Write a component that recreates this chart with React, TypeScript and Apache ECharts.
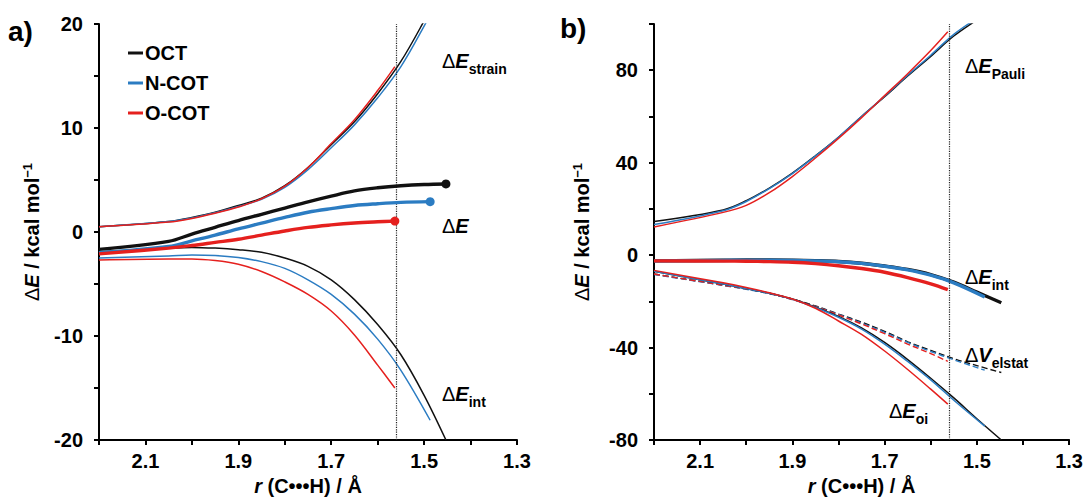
import React, { useEffect, useRef } from "react";
import * as echarts from "echarts";

const FONT = "'Liberation Sans', Arial, Helvetica, sans-serif";
const BLACK = "#111111";
const BLUE = "#2b7cc2";
const RED = "#e5201e";

// ---------- r (C···H) grids, Å ----------
const rRed = [2.2, 2.05, 2.0, 1.95, 1.9, 1.85, 1.8, 1.75, 1.7, 1.65, 1.6, 1.563];
const rBlueA = [2.2, 2.05, 2.0, 1.95, 1.9, 1.85, 1.8, 1.75, 1.7, 1.65, 1.6, 1.55, 1.487];
const rBlackA = [2.2, 2.05, 2.0, 1.95, 1.9, 1.85, 1.8, 1.75, 1.7, 1.65, 1.6, 1.55, 1.5, 1.453];
const rStrainLong = [2.2, 2.05, 2.0, 1.95, 1.9, 1.85, 1.8, 1.75, 1.7, 1.65, 1.6, 1.55, 1.5, 1.47];
const rBlueB = [2.2, 2.05, 2.0, 1.95, 1.9, 1.85, 1.8, 1.75, 1.7, 1.65, 1.6, 1.55, 1.483];
const rBlackB = [2.2, 2.05, 2.0, 1.95, 1.9, 1.85, 1.8, 1.75, 1.7, 1.65, 1.6, 1.55, 1.5, 1.447];
const rPauliLong = [2.2, 2.05, 2.0, 1.95, 1.9, 1.85, 1.8, 1.75, 1.7, 1.65, 1.6, 1.55, 1.5, 1.48];
const rCut = 1.563;

// ---------- panel a) ----------
const strainOCT = [0.5, 1.0, 1.4, 1.9, 2.55, 3.25, 4.45, 6.2, 8.4, 10.6, 13.3, 16.4, 20.3, 22.9];
const strainNCOT = [0.5, 1.0, 1.35, 1.85, 2.45, 3.15, 4.3, 6.0, 8.1, 10.3, 12.9, 15.9, 19.8, 22.4];
const strainOCOT = [0.5, 0.95, 1.3, 1.8, 2.4, 3.2, 4.4, 6.2, 8.5, 10.8, 13.6, 15.9];

const dEOCT = [-1.67, -0.9, -0.2, 0.45, 1.1, 1.7, 2.3, 2.9, 3.45, 3.95, 4.25, 4.45, 4.57, 4.62];
const dENCOT = [-2.0, -1.4, -0.85, -0.3, 0.3, 0.85, 1.4, 1.9, 2.25, 2.55, 2.72, 2.85, 2.92];
const dEOCOT = [-2.1, -1.55, -1.3, -1.0, -0.7, -0.3, 0.1, 0.45, 0.68, 0.86, 0.98, 1.05];

const intOCT = [-1.9, -1.55, -1.48, -1.55, -1.7, -1.95, -2.5, -3.3, -4.6, -6.5, -8.9, -11.8, -15.7, -20.0];
const intNCOT = [-2.5, -2.3, -2.2, -2.25, -2.45, -2.85, -3.5, -4.6, -6.0, -7.9, -10.3, -13.3, -18.1];
const intOCOT = [-2.7, -2.6, -2.6, -2.75, -3.1, -3.8, -4.8, -6.0, -7.6, -9.9, -12.8, -15.0];

// ---------- panel b) ----------
const pauliOCT = [14.5, 19.5, 23.5, 29, 35.5, 43, 51, 60, 68.5, 77.5, 86, 94.8, 101.8, 104.5];
const pauliNCOT = [13.2, 19.2, 23.2, 28.8, 35.3, 42.8, 51, 60, 68.8, 77.8, 86.5, 95.5, 102.5, 105.2];
const pauliOCOT = [12.2, 18.5, 21.5, 27, 34, 42, 50.5, 59.5, 69, 78.5, 88.5, 96.6];

const intBOCT = [-2.5, -2.2, -2.1, -2.1, -2.2, -2.4, -2.75, -3.5, -4.7, -6.2, -8.4, -11.7, -16.0, -20.6];
const intBNCOT = [-2.5, -2.3, -2.2, -2.2, -2.3, -2.5, -2.85, -3.6, -4.8, -6.4, -8.7, -12.0, -18.1];
const intBOCOT = [-2.5, -2.6, -2.65, -2.8, -3.1, -3.7, -4.6, -5.8, -7.4, -9.7, -12.4, -14.9];

const oiOCT = [-7.0, -12.5, -14.5, -16.5, -19.0, -22.5, -26.5, -31.5, -37.8, -45.2, -53.3, -61.8, -70.8, -80];
const oiNCOT = [-7.0, -12.5, -14.5, -16.5, -19.1, -22.7, -26.9, -32.0, -38.5, -46.0, -54.0, -62.8, -74.0];
const oiOCOT = [-6.6, -12.0, -14.0, -16.3, -19.0, -23.0, -28.5, -34.3, -41.5, -49.5, -58.0, -64.5];

const elOCT = [-8.2, -13.0, -14.6, -16.5, -19.0, -22.0, -25.5, -29.0, -33.0, -37.5, -41.2, -44.8, -47.8, -50.8];
const elNCOT = [-8.4, -13.1, -14.8, -16.7, -19.2, -22.2, -25.7, -29.4, -33.4, -37.8, -41.7, -45.3, -49.8];
const elOCOT = [-8.2, -13.0, -14.6, -16.5, -19.2, -22.3, -25.9, -29.8, -34.0, -38.5, -42.6, -46.0];

const legendNames = ["OCT", "N-COT", "O-COT"];

function zip(rs: number[], vs: number[]) {
  return rs.map((r, i) => [r, vs[i]]);
}

function line(name: string, idx: number, rs: number[], vs: number[], color: string, width: number, extra: any = {}) {
  return {
    type: "line",
    name,
    xAxisIndex: idx,
    yAxisIndex: idx,
    data: zip(rs, vs),
    color,
    symbol: "none",
    showSymbol: false,
    smooth: 0.35,
    lineStyle: { color, width },
    z: width > 2 ? 4 : 3,
    silent: true,
    ...extra,
  };
}

function dotLine(name: string, idx: number, rs: number[], vs: number[], color: string) {
  const d: any[] = zip(rs, vs);
  const last = d.length - 1;
  d[last] = { value: d[last], symbol: "circle", symbolSize: 9, itemStyle: { color } };
  return {
    type: "line",
    name,
    xAxisIndex: idx,
    yAxisIndex: idx,
    data: d,
    color,
    symbol: "none",
    showSymbol: true,
    showAllSymbol: true,
    smooth: 0.35,
    lineStyle: { color, width: 3.4 },
    z: 5,
    silent: true,
  };
}

const cutLine = {
  silent: true,
  symbol: ["none", "none"],
  label: { show: false },
  lineStyle: { type: "dotted", color: "#222", width: 1.2 },
  data: [{ xAxis: rCut }],
};

function xAxis(idx: number) {
  return {
    type: "value",
    gridIndex: idx,
    min: 1.3,
    max: 2.2,
    interval: 0.1,
    inverse: true,
    axisLine: { show: true, onZero: false, lineStyle: { color: "#000", width: 2 } },
    axisTick: { show: true, length: 5, lineStyle: { color: "#000", width: 2 } },
    splitLine: { show: false },
    axisLabel: {
      margin: 11,
      color: "#000",
      fontFamily: FONT,
      fontWeight: "bold",
      fontSize: 20,
      formatter: (v: number) => {
        const k = Math.round(v * 10);
        return k % 2 === 1 ? (k / 10).toFixed(1) : "";
      },
    },
    name: "{i|r}{b| (C•••H) / Å}",
    nameLocation: "middle",
    nameGap: 35,
    nameTextStyle: {
      rich: {
        i: { fontFamily: FONT, fontWeight: "bold", fontStyle: "italic", fontSize: 20, color: "#000" },
        b: { fontFamily: FONT, fontWeight: "bold", fontSize: 20, color: "#000" },
      },
    },
  };
}

function yAxis(idx: number, min: number, max: number, interval: number, labelStep: number, gap: number) {
  return {
    type: "value",
    gridIndex: idx,
    min,
    max,
    interval,
    axisLine: { show: true, onZero: false, lineStyle: { color: "#000", width: 2 } },
    axisTick: { show: true, length: 5, lineStyle: { color: "#000", width: 2 } },
    splitLine: { show: false },
    axisLabel: {
      margin: 16,
      color: "#000",
      fontFamily: FONT,
      fontWeight: "bold",
      fontSize: 20,
      formatter: (v: number) => {
        const k = Math.round(v);
        return k % labelStep === 0 ? String(k) : "";
      },
    },
    name: "{d|Δ}{e|E}{b| / kcal mol}{sup|−1}",
    nameLocation: "middle",
    nameGap: gap,
    nameRotate: 90,
    nameTextStyle: {
      rich: {
        d: { fontFamily: FONT, fontSize: 20, color: "#000", lineHeight: 22 },
        e: { fontFamily: FONT, fontWeight: "bold", fontStyle: "italic", fontSize: 20, color: "#000", lineHeight: 22 },
        b: { fontFamily: FONT, fontWeight: "bold", fontSize: 20, color: "#000", lineHeight: 22 },
        sup: { fontFamily: FONT, fontWeight: "bold", fontSize: 13, color: "#000", lineHeight: 12, verticalAlign: "top" },
      },
    },
  };
}

const labelRich = {
  d: { fontFamily: FONT, fontSize: 20, color: "#000", lineHeight: 25, verticalAlign: "top" },
  e: { fontFamily: FONT, fontWeight: "bold", fontStyle: "italic", fontSize: 20, color: "#000", lineHeight: 25, verticalAlign: "top" },
  s: { fontFamily: FONT, fontWeight: "bold", fontSize: 14, color: "#000", lineHeight: 16, verticalAlign: "bottom" },
};

function curveLabel(x: number, y: number, main: string, sub: string) {
  return {
    type: "text",
    left: x,
    top: y,
    silent: true,
    style: {
      text: `{d|Δ}{e|${main}}` + (sub ? `{s|${sub}}` : ""),
      rich: labelRich,
    },
  };
}

export default function App() {
  const ref = useRef<HTMLDivElement>(null);
  useEffect(() => {
    if (!ref.current) return;
    const chart = echarts.init(ref.current, undefined, { renderer: "svg" });
    const option: any = {
      animation: false,
      backgroundColor: "#fff",
      grid: [
        { left: 99, top: 24, width: 418, height: 416 },
        { left: 654, top: 24, width: 418, height: 416 },
      ],
      xAxis: [xAxis(0), xAxis(1)],
      yAxis: [yAxis(0, -20, 20, 5, 10, 56), yAxis(1, -80, 100, 20, 40, 61)],
      legend: {
        data: legendNames,
        orient: "vertical",
        left: 123,
        top: 38,
        icon: "rect",
        itemWidth: 15,
        itemHeight: 3,
        itemGap: 10,
        selectedMode: false,
        textStyle: { fontFamily: FONT, fontWeight: "bold", fontSize: 20, color: "#000", padding: [0, 0, 0, -3] },
      },
      series: [
        // panel a
        line("OCT", 0, rStrainLong, strainOCT, BLACK, 1.5),
        line("N-COT", 0, rStrainLong, strainNCOT, BLUE, 1.5),
        line("O-COT", 0, rRed, strainOCOT, RED, 1.5, { markLine: cutLine }),
        line("OCT", 0, rBlackA, intOCT, BLACK, 1.5),
        line("N-COT", 0, rBlueA, intNCOT, BLUE, 1.5),
        line("O-COT", 0, rRed, intOCOT, RED, 1.5),
        dotLine("OCT", 0, rBlackA, dEOCT, BLACK),
        dotLine("N-COT", 0, rBlueA, dENCOT, BLUE),
        dotLine("O-COT", 0, rRed, dEOCOT, RED),
        // panel b
        line("OCT", 1, rPauliLong, pauliOCT, BLACK, 1.5),
        line("N-COT", 1, rPauliLong, pauliNCOT, BLUE, 1.5),
        line("O-COT", 1, rRed, pauliOCOT, RED, 1.5, { markLine: cutLine }),
        line("OCT", 1, rBlackB, elOCT, BLACK, 1.4, { lineStyle: { color: BLACK, width: 1.4, type: [6, 3] } }),
        line("N-COT", 1, rBlueB, elNCOT, BLUE, 1.4, { lineStyle: { color: BLUE, width: 1.4, type: [6, 3] } }),
        line("O-COT", 1, rRed, elOCOT, RED, 1.4, { lineStyle: { color: RED, width: 1.4, type: [6, 3] } }),
        line("OCT", 1, rBlackB, oiOCT, BLACK, 1.5),
        line("N-COT", 1, rBlueB, oiNCOT, BLUE, 1.5),
        line("O-COT", 1, rRed, oiOCOT, RED, 1.5),
        line("OCT", 1, rBlackB, intBOCT, BLACK, 3.4),
        line("N-COT", 1, rBlueB, intBNCOT, BLUE, 3.4),
        line("O-COT", 1, rRed, intBOCOT, RED, 3.4),
      ],
      graphic: [
        { type: "text", left: 8, top: 17, silent: true, style: { text: "a)", fontFamily: FONT, fontWeight: "bold", fontSize: 28, fill: "#000" } },
        { type: "text", left: 560, top: 14, silent: true, style: { text: "b)", fontFamily: FONT, fontWeight: "bold", fontSize: 28, fill: "#000" } },
        curveLabel(442, 51, "E", "strain"),
        curveLabel(442, 216, "E", ""),
        curveLabel(442, 384, "E", "int"),
        curveLabel(965, 56, "E", "Pauli"),
        curveLabel(965, 267, "E", "int"),
        curveLabel(965, 345, "V", "elstat"),
        curveLabel(889, 401, "E", "oi"),
      ],
    };
    chart.setOption(option);
    return () => chart.dispose();
  }, []);
  return <div ref={ref} style={{ position: "fixed", left: 0, top: 0, width: 1086, height: 501 }} />;
}
